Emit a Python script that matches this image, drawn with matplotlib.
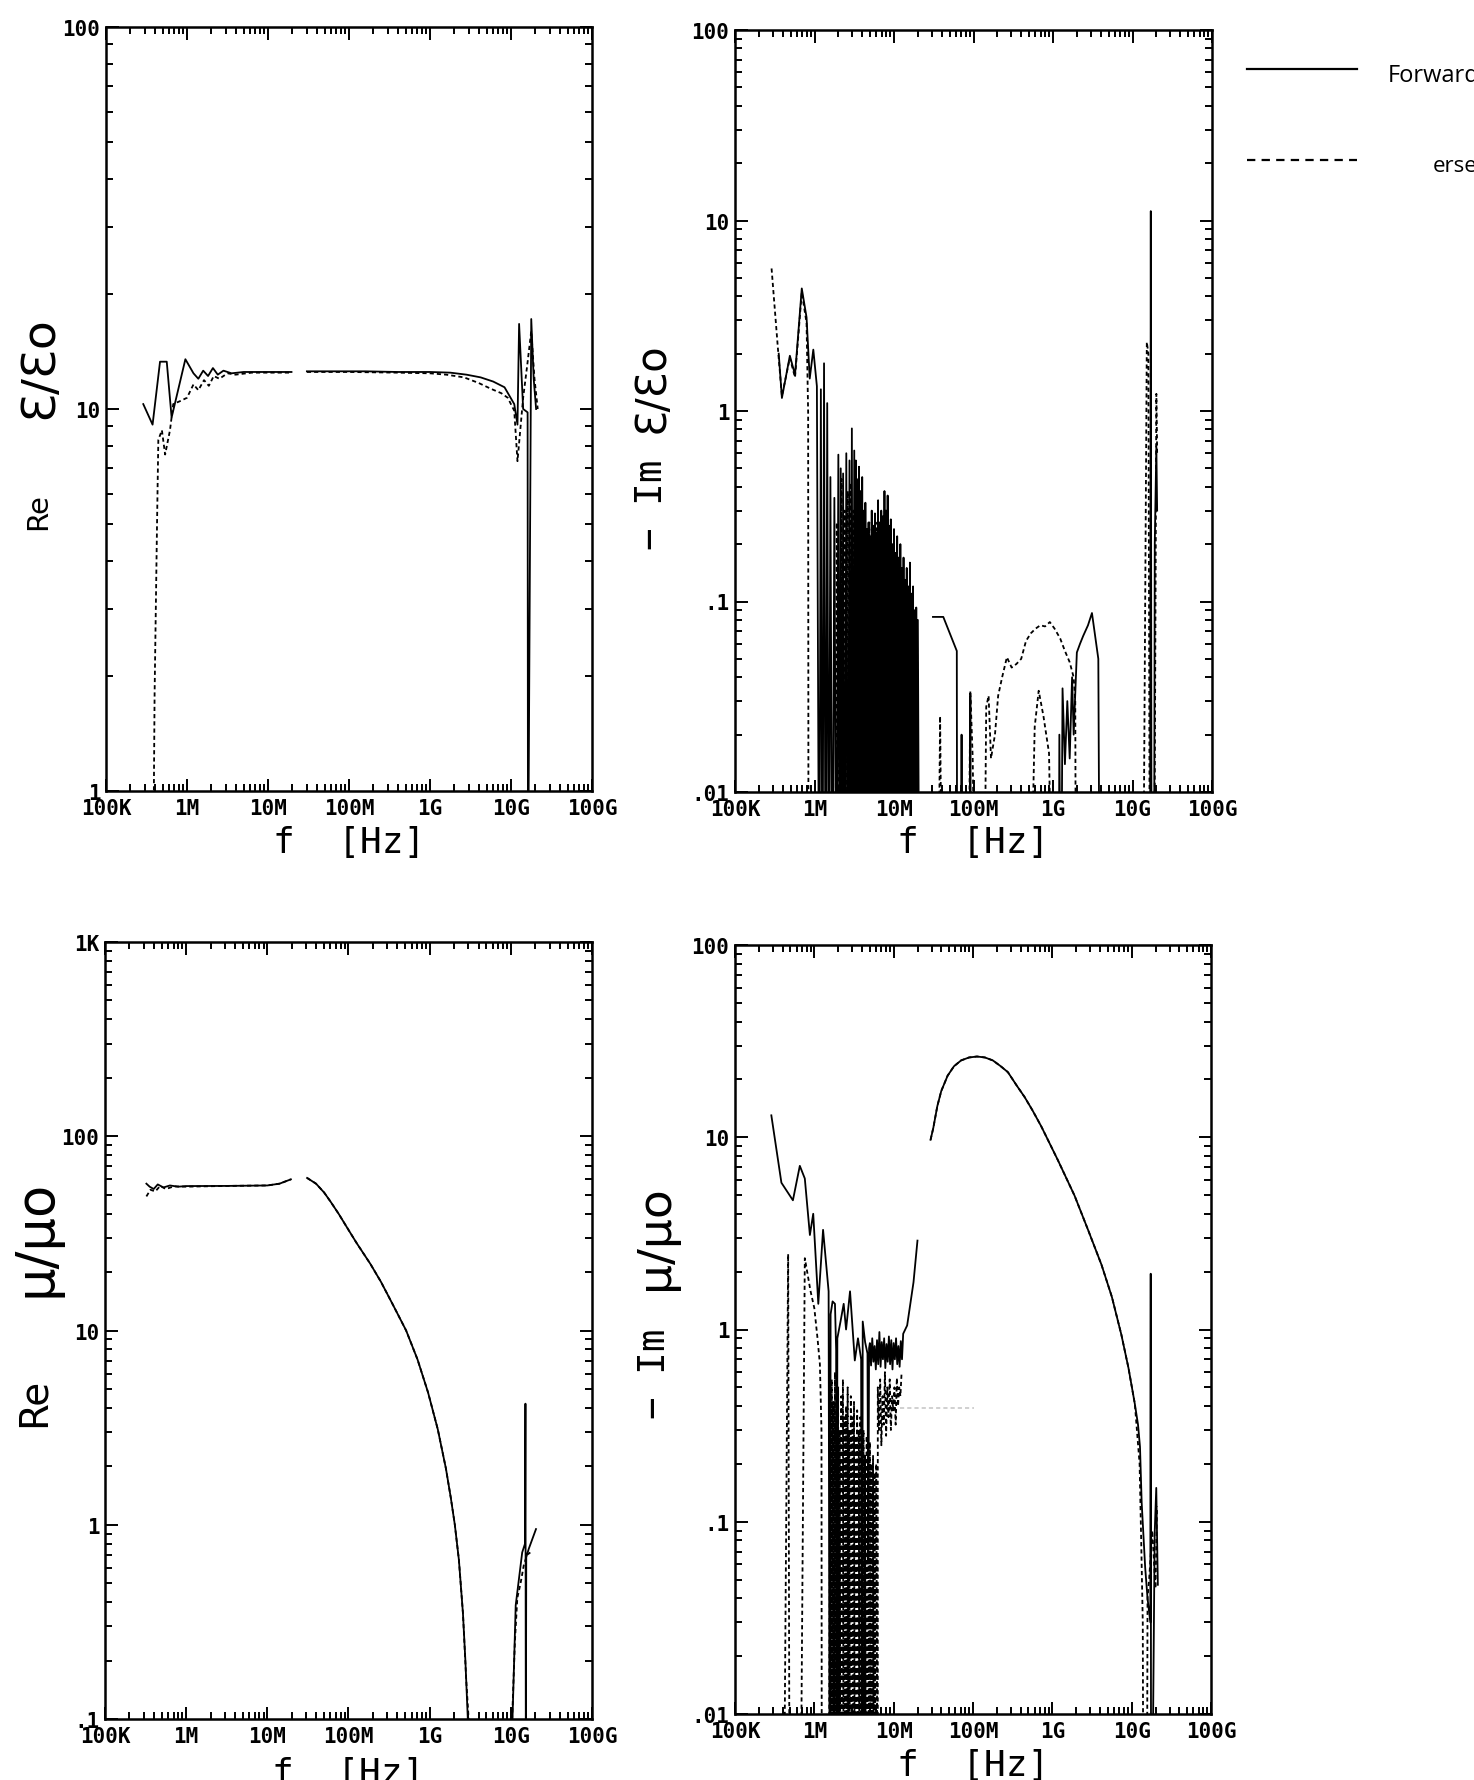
import numpy as np
import matplotlib
matplotlib.use("Agg")
import matplotlib.pyplot as plt
from matplotlib.lines import Line2D
from matplotlib.ticker import FixedLocator, FixedFormatter, LogLocator, NullFormatter

nan = np.nan
LOW = 1e-3  # dropout level, below every axis floor

# frequency axis (decades)
x_ticks = [1e5, 1e6, 1e7, 1e8, 1e9, 1e10, 1e11]
x_labels = ["100K", "1M", "10M", "100M", "1G", "10G", "100G"]

# --- Re eps/eps0 -------------------------------------------------------
eps_re_fwd_lf = [5.46, 5.575, 5.667, 5.75, 5.81, 5.98, 6.08, 6.14, 6.2, 6.26, 6.32, 6.38, 6.45,
                 6.55, 6.7, 6.9, 7.1, 7.29, nan, 7.48, 7.8, 8.2, 8.6, 9.0, 9.25, 9.45, 9.625,
                 9.78, 9.92, 10.04, 10.08, 10.10, 10.15, 10.205, 10.21, 10.25, 10.28, 10.31]
eps_re_fwd = [10.3, 9.1, 13.3, 13.3, 9.5, 13.5, 12.4, 12.0, 12.6, 12.2, 12.8, 12.3, 12.6,
              12.4, 12.5, 12.5, 12.5, 12.5, nan, 12.55, 12.55, 12.55, 12.5, 12.5, 12.45, 12.3, 12.1,
              11.8, 11.4, 10.3, 9.1, 16.7, 10.0, 9.8, 0.5, 17.2, 12.0, 10.0]
eps_re_rev_lf = [5.58, 5.60, 5.63, 5.646, 5.69, 5.73, 5.79, 5.83, 5.92, 6.0, 6.08, 6.14, 6.21,
                 6.27, 6.33, 6.4, 6.5, 6.6, 6.8, 7.29, nan, 7.48, 8.0, 8.6, 9.0, 9.2, 9.42, 9.6,
                 9.75, 9.88, 9.96, 10.04, 10.08, 10.15, 10.2, 10.25, 10.29, 10.33]
eps_re_rev = [0.5, 1.8, 5.0, 8.3, 8.8, 7.6, 8.8, 10.3, 10.5, 10.7, 11.6, 11.2, 11.9,
              11.5, 12.2, 12.0, 12.4, 12.3, 12.45, 12.45, nan, 12.5, 12.5, 12.45, 12.4, 12.3, 12.1, 11.7,
              11.3, 11.0, 10.7, 9.9, 7.3, 10.7, 13.0, 16.0, 12.0, 10.0]

# --- -Im eps/eps0 ------------------------------------------------------
eps_im_fwd_head_lf = [5.55, 5.59, 5.69, 5.755, 5.84, 5.90, 5.94, 5.985, 6.03]
eps_im_fwd_head = [2.0, 1.17, 1.95, 1.55, 4.4, 3.1, 1.48, 2.1, 1.35]
eps_im_fwd_spk_lf = [6.08, 6.12, 6.16, 6.20, 6.25, 6.30, 6.33, 6.36, 6.40, 6.44, 6.47, 6.50]
eps_im_fwd_spk = [1.3, 1.78, 1.1, 0.45, 0.35, 0.59, 0.5, 0.47, 0.6, 0.55, 0.81, 0.62]
# dense sweep 3.3 MHz - 20 MHz, one resonance every 0.02 decade
eps_im_fwd_dense = [0.55, 0.42, 0.51, 0.38, 0.45, 0.3, 0.33, 0.24, 0.26, 0.22, 0.3, 0.25, 0.29,
                    0.23, 0.34, 0.26, 0.3, 0.28, 0.38, 0.3, 0.36, 0.25, 0.27, 0.2, 0.24, 0.18,
                    0.22, 0.17, 0.2, 0.15, 0.17, 0.13, 0.15, 0.12, 0.16, 0.11, 0.12, 0.09, 0.093,
                    0.08]
eps_im_fwd_tail_lf = [nan, 7.49, 7.62, 7.79, 7.795, 7.84, 7.85, 7.86, 7.95, 7.96, 7.97,
                      9.07, 9.08, 9.10, 9.12, 9.15, 9.18, 9.21, 9.24, 9.26, 9.30, 9.34, 9.38,
                      9.44, 9.49, 9.53, 9.57, 9.59, 10.22, 10.23, 10.24, 10.27, 10.28, 10.30, 10.31]
eps_im_fwd_tail = [nan, 0.083, 0.083, 0.055, LOW, LOW, 0.02, LOW, LOW, 0.032, LOW,
                   LOW, 0.02, LOW, 0.035, 0.014, 0.03, 0.015, 0.04, 0.02, 0.054, 0.06, 0.066,
                   0.075, 0.087, 0.066, 0.05, LOW, LOW, 11.2, LOW, LOW, 0.2, 0.65, 0.3]

eps_im_rev_head_lf = [5.46, 5.545, 5.59, 5.69, 5.755, 5.84, 5.90, 5.92, 5.925]
eps_im_rev_head = [5.6, 2.0, 1.2, 1.9, 1.5, 4.2, 2.9, 0.98, LOW]
eps_im_rev_spk_lf = [6.28, 6.34, 6.38, 6.42, 6.45, 6.49]
eps_im_rev_spk = [0.26, 0.44, 0.3, 0.38, 0.42, 0.3]
eps_im_rev_dense = [0.45, 0.35, 0.28, 0.3, 0.24, 0.2, 0.22, 0.24, 0.26, 0.2, 0.22, 0.24, 0.26,
                    0.22, 0.2, 0.25, 0.22, 0.28, 0.24, 0.2, 0.22, 0.18, 0.19, 0.2, 0.16, 0.15,
                    0.14, 0.13, 0.14, 0.12, 0.11, 0.1, 0.11, 0.09, 0.1, 0.085, 0.08, 0.07, 0.07]
eps_im_rev_tail_lf = [7.55, 7.58, 7.61, 7.93, 7.96, 7.99, 8.03, 8.13, 8.16, 8.19, 8.22, 8.27,
                      8.31, 8.36, 8.42, 8.48, 8.54, 8.60, 8.66, 8.72, 8.78, 8.84, 8.90, 8.96,
                      9.02, 9.09, 9.15, 9.21, 9.26, 9.28, 9.29, nan,
                      8.70, 8.77, 8.82, 8.88, 8.95, 9.0, nan,
                      10.13, 10.18, 10.20, 10.22, 10.27, 10.30, 10.31]
eps_im_rev_tail = [LOW, 0.025, LOW, LOW, 0.034, 0.015, LOW, LOW, 0.028, 0.032, 0.015, 0.02,
                   0.032, 0.04, 0.051, 0.045, 0.047, 0.05, 0.062, 0.068, 0.072, 0.075, 0.074, 0.078,
                   0.072, 0.064, 0.055, 0.048, 0.04, 0.03, LOW, nan,
                   LOW, 0.022, 0.034, 0.025, 0.016, LOW, nan,
                   LOW, 2.3, 2.0, LOW, LOW, 1.23, 0.6]

# --- Re mu/mu0 ---------------------------------------------------------
mu_re_fwd_lf = [5.51, 5.55, 5.60, 5.65, 5.72, 5.8, 5.9, 6.0, 6.5, 7.0, 7.15, 7.29, nan,
                7.49, 7.6, 7.7, 7.78, 7.88, 7.98, 8.1, 8.27, 8.4, 8.55, 8.71, 8.85, 8.98, 9.1,
                9.2, 9.26, 9.31, 9.36, 9.41, 9.44, 9.47, 9.48, nan,
                10.0, 10.06, 10.14, 10.175, 10.18, 10.185, 10.19, 10.22, 10.31]
mu_re_fwd = [57, 55, 53.5, 56.5, 54.5, 55.8, 55, 55.4, 55.5, 55.8, 57, 60, nan,
             61, 57, 51.3, 46, 39.8, 34, 28.2, 22, 17.8, 13.5, 10, 7.1, 4.8, 3.1,
             1.95, 1.38, 1.0, 0.66, 0.35, 0.2, 0.1, 0.05, nan,
             0.05, 0.385, 0.72, 0.8, 4.2, 0.05, 0.68, 0.75, 0.95]
mu_re_rev_lf = [5.51, 5.56, 5.62, 5.68, 5.75, 5.85, 6.0, 6.5, 7.0, 7.15, 7.29, nan,
                7.49, 7.6, 7.7, 7.78, 7.88, 7.98, 8.1, 8.27, 8.4, 8.55, 8.71, 8.85, 8.98, 9.1,
                9.2, 9.26, 9.31, 9.36, 9.41, 9.45, 9.48, 9.49, nan,
                9.99, 10.05, 10.08, 10.12, 10.16, 10.2, 10.24]
mu_re_rev = [49, 53, 52, 55.5, 53.5, 55.2, 55, 55.5, 55.8, 57, 60, nan,
             61, 57, 51.3, 46, 39.8, 34, 28.2, 22, 17.8, 13.5, 10, 7.1, 4.8, 3.1,
             1.95, 1.38, 1.0, 0.66, 0.35, 0.16, 0.1, 0.05, nan,
             0.05, 0.25, 0.42, 0.5, 0.62, 0.7, 0.72]

# --- -Im mu/mu0 --------------------------------------------------------
mu_im_fwd_head_lf = [5.458, 5.585, 5.73, 5.817, 5.88, 5.944, 5.986, 6.05, 6.11, 6.18, 6.195,
                     6.205, 6.23, 6.26, 6.275, 6.28, 6.29, 6.33, 6.37, 6.40, 6.45, 6.51, 6.55,
                     6.59, 6.60, 6.61, 6.64, 6.67, 6.68, 6.69]
mu_im_fwd_head = [13.0, 5.8, 4.7, 7.1, 6.1, 3.1, 4.0, 1.36, 3.3, 1.58, LOW,
                  1.2, 1.4, 1.36, 0.78, LOW, 0.9, 1.1, 1.36, 1.0, 1.58, 0.69, 0.9,
                  0.7, LOW, 1.1, 0.86, 0.75, 0.063, 0.8]
# 5 MHz - 13 MHz ripple, one sample every 0.015 decade
mu_im_fwd_band = [0.85, 0.65, 0.9, 0.68, 0.82, 0.62, 0.88, 0.66, 0.97, 0.64, 0.86, 0.7, 0.9,
                  0.63, 0.84, 0.68, 0.92, 0.66, 0.88, 0.62, 0.85, 0.7, 0.9, 0.66, 0.82, 0.64,
                  0.87, 0.7, 0.95]
mu_im_arc_lf = [7.465, 7.5, 7.55, 7.6, 7.68, 7.76, 7.85, 7.95, 8.05, 8.15, 8.25, 8.35, 8.44,
                8.55, 8.65, 8.75, 8.86, 9.07, 9.28, 9.45, 9.62, 9.75, 9.87, 9.96, 10.04]
mu_im_arc = [9.7, 11.2, 14.5, 17.4, 20.9, 23.4, 25.1, 26.0, 26.3, 26.0, 25.1, 23.4, 21.8,
             18.6, 16.2, 13.8, 11.4, 7.6, 4.97, 3.3, 2.17, 1.48, 0.94, 0.63, 0.41]
mu_im_fwd_tail_lf = [7.17, 7.25, 7.30, nan]
mu_im_fwd_tail = [1.05, 1.76, 2.9, nan]
mu_im_fwd_end_lf = [10.08, 10.105, 10.126, 10.17, 10.2, 10.235, 10.24, 10.245, 10.25,
                    10.29, 10.31, 10.33]
mu_im_fwd_end = [0.32, 0.245, 0.126, 0.058, 0.04, 0.03, 1.95, LOW, LOW, 0.087, 0.15, 0.047]

mu_im_rev_head_lf = [5.61, 5.67, 5.69, 5.82, 5.88, 5.95, 6.0, 6.04, 6.07, 6.09, 6.095]
mu_im_rev_head = [LOW, 2.47, LOW, LOW, 2.35, 1.6, 1.29, 0.9, 0.66, 0.3, LOW]
mu_im_rev_spk_lf = [6.20, 6.22, 6.24, 6.26, 6.28, 6.30, 6.32, 6.34, 6.36, 6.38, 6.40, 6.42,
                    6.44, 6.46, 6.48, 6.50, 6.52, 6.54, 6.56, 6.58, 6.60, 6.62, 6.64, 6.66,
                    6.68, 6.70, 6.72, 6.74, 6.76, 6.78]
mu_im_rev_spk = [0.3, 0.55, 0.42, 0.6, 0.35, 0.5, 0.3, 0.45, 0.55, 0.35, 0.4, 0.5, 0.3, 0.45,
                 0.35, 0.42, 0.28, 0.38, 0.3, 0.35, 0.25, 0.3, 0.22, 0.28, 0.2, 0.26, 0.2, 0.22,
                 0.18, 0.2]
mu_im_rev_band = [0.5, 0.3, 0.55, 0.25, 0.45, 0.32, 0.6, 0.28, 0.5, 0.35, 0.55, 0.3, 0.45,
                  0.38, 0.5, 0.32, 0.56, 0.4, 0.5, 0.45, 0.6]
mu_im_rev_end_lf = [10.10, 10.12, 10.14, 10.15, 10.19, 10.2, 10.22, 10.26, 10.30, 10.32]
mu_im_rev_end = [0.2, 0.08, 0.03, LOW, LOW, 0.04, 0.05, 0.09, 0.045, 0.12]
mu_im_ghost_lf = [7.08, 8.01]
mu_im_ghost = [0.39, 0.39]


def spikes(lf, top, floor=LOW):
    # each spike climbs from the floor and drops back halfway to the next one
    lf = np.asarray(lf, float)
    mids = np.concatenate([[lf[0] - 0.02], (lf[1:] + lf[:-1]) / 2, [lf[-1] + 0.02]])
    xs, ys = [mids[0]], [floor]
    for i in range(len(lf)):
        xs += [lf[i], mids[i + 1]]
        ys += [top[i], floor]
    return xs, ys


def grid(start, step, vals):
    return np.round(start + step * np.arange(len(vals)), 4)


def join(*parts):
    xs, ys = [], []
    for px, py in parts:
        xs += list(px)
        ys += list(py)
    return 10 ** np.array(xs, float), np.array(ys, float)


W, H = 1474, 1781
plt.rcParams['lines.scale_dashes'] = False
fig = plt.figure(figsize=(W / 100, H / 100), dpi=100)


def box(l, t, r, b):
    return [l / W, 1 - b / H, (r - l) / W, (b - t) / H]


tick_font = dict(family='DejaVu Sans Mono', weight='bold', size=15)
DASH = (0, (3, 2.2))


def frame(rect, ylo, yhi, yticks, ylabels):
    ax = fig.add_axes(box(*rect))
    ax.set_xscale('log')
    ax.set_yscale('log')
    ax.set_xlim(1e5, 1e11)
    ax.set_ylim(ylo, yhi)
    ax.xaxis.set_major_locator(FixedLocator(x_ticks))
    ax.xaxis.set_major_formatter(FixedFormatter(x_labels))
    ax.yaxis.set_major_locator(FixedLocator(yticks))
    ax.yaxis.set_major_formatter(FixedFormatter(ylabels))
    for axis in (ax.xaxis, ax.yaxis):
        axis.set_minor_locator(LogLocator(base=10, subs=np.arange(2, 10), numticks=30))
        axis.set_minor_formatter(NullFormatter())
    ax.tick_params(which='both', direction='in', top=True, right=True, width=1.4)
    ax.tick_params(which='major', length=9)
    ax.tick_params(which='minor', length=5)
    ax.tick_params(axis='x', pad=5)
    ax.tick_params(axis='y', pad=4)
    for lab in ax.get_xticklabels() + ax.get_yticklabels():
        lab.set_fontproperties(tick_font)
    for s in ax.spines.values():
        s.set_linewidth(1.8)
    return ax


def trace(ax, f, v, dashed=False, **kw):
    ax.plot(f, v, color='black', lw=1.3, linestyle=DASH if dashed else '-', **kw)


# Re eps
ax1 = frame((106, 28, 592, 792), 1, 100, [1, 10, 100], ["1", "10", "100"])
trace(ax1, *join((eps_re_fwd_lf, eps_re_fwd)))
trace(ax1, *join((eps_re_rev_lf, eps_re_rev)), dashed=True)

# -Im eps
ax2 = frame((735, 31, 1212, 793), 0.01, 100, [0.01, 0.1, 1, 10, 100], [".01", ".1", "1", "10", "100"])
trace(ax2, *join((eps_im_fwd_head_lf, eps_im_fwd_head),
                 spikes(list(eps_im_fwd_spk_lf) + list(grid(6.52, 0.02, eps_im_fwd_dense)),
                        eps_im_fwd_spk + eps_im_fwd_dense),
                 (eps_im_fwd_tail_lf, eps_im_fwd_tail)))
trace(ax2, *join((eps_im_rev_head_lf, eps_im_rev_head),
                 spikes(list(eps_im_rev_spk_lf) + list(grid(6.53, 0.02, eps_im_rev_dense)),
                        eps_im_rev_spk + eps_im_rev_dense),
                 (eps_im_rev_tail_lf, eps_im_rev_tail)), dashed=True)

# Re mu
ax3 = frame((105, 943, 592, 1720), 0.1, 1000, [0.1, 1, 10, 100, 1000], [".1", "1", "10", "100", "1K"])
trace(ax3, *join((mu_re_fwd_lf, mu_re_fwd)))
trace(ax3, *join((mu_re_rev_lf, mu_re_rev)), dashed=True)

# -Im mu
ax4 = frame((735, 946, 1211, 1715), 0.01, 100, [0.01, 0.1, 1, 10, 100], [".01", ".1", "1", "10", "100"])
trace(ax4, *join((mu_im_fwd_head_lf, mu_im_fwd_head),
                 (grid(6.70, 0.015, mu_im_fwd_band), mu_im_fwd_band),
                 (mu_im_fwd_tail_lf, mu_im_fwd_tail),
                 (mu_im_arc_lf, mu_im_arc),
                 (mu_im_fwd_end_lf, mu_im_fwd_end)))
trace(ax4, *join((mu_im_rev_head_lf, mu_im_rev_head),
                 spikes(mu_im_rev_spk_lf, mu_im_rev_spk),
                 (grid(6.80, 0.015, mu_im_rev_band), mu_im_rev_band),
                 ([nan], [nan]),
                 (mu_im_arc_lf, mu_im_arc),
                 (mu_im_rev_end_lf, mu_im_rev_end)), dashed=True)
ax4.plot(10 ** np.array(mu_im_ghost_lf), mu_im_ghost, color='#c8c8c8', lw=1.2, linestyle=DASH)

# axis titles
lab_font = dict(family='DejaVu Sans', rotation=90, ha='center', va='center')
im_font = dict(family='DejaVu Sans Mono', rotation=90, ha='center', va='center', size=27)
mono = dict(family='DejaVu Sans Mono', ha='center', va='center', size=26)


def ftext(x, y, s, **kw):
    fig.text(x / W, 1 - y / H, s, **kw)


ftext(38, 512, "Re", size=21, **lab_font)
ftext(40, 368, "Ɛ/Ɛo", size=34, **lab_font)
ftext(652, 505, "− Im", **im_font)
ftext(652, 388, "Ɛ/Ɛo", size=30, **lab_font)
ftext(34, 1402, "Re", size=28, **lab_font)
ftext(36, 1238, "μ/μo", size=38, **lab_font)
ftext(655, 1374, "− Im", **im_font)
ftext(655, 1238, "μ/μo", size=34, **lab_font)

ftext(349, 843, "f  [Hz]", **mono)
ftext(973, 843, "f  [Hz]", **mono)
ftext(348, 1774, "f  [Hz]", **mono)
ftext(973, 1766, "f  [Hz]", **mono)

# legend, running off the right edge of the sheet
fig.add_artist(Line2D([1247 / W, 1357 / W], [1 - 70 / H, 1 - 70 / H], color='black', lw=1.6))
fig.add_artist(Line2D([1247 / W, 1357 / W], [1 - 161 / H, 1 - 161 / H], color='black', lw=1.6,
                      linestyle=(0, (6, 4.5))))
ftext(1388, 76, "Forward", family='Open Sans', size=17, ha='left', va='center')
ftext(1433, 167, "erse", family='Open Sans', size=16, ha='left', va='center')

fig.savefig("out.png", dpi=100)
